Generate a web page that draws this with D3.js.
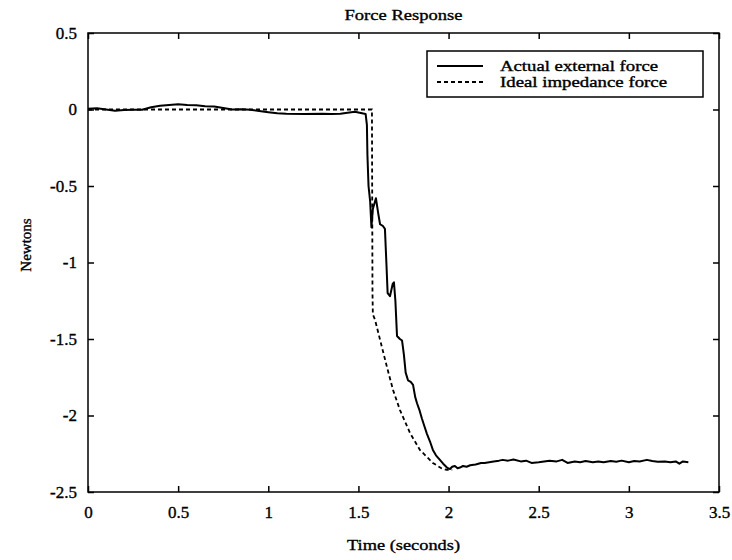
<!DOCTYPE html>
<html>
<head>
<meta charset="utf-8">
<script src="https://cdn.jsdelivr.net/npm/d3@7"></script>
<style>
  body { margin: 0; background: #fff; }
  text { font-family: "Liberation Serif", "DejaVu Serif", serif; fill: #000; stroke: #000; stroke-width: 0.35px; }
</style>
</head>
<body>
<svg width="732" height="560"></svg>
<script>
// data
const actualTime = [0, 0.05, 0.1, 0.15, 0.2, 0.25, 0.3, 0.35, 0.4, 0.45, 0.5, 0.55, 0.6, 0.65, 0.7, 0.75, 0.8, 0.85, 0.9, 0.95,
    1.0, 1.05, 1.1, 1.2, 1.3, 1.35, 1.4, 1.45, 1.48, 1.5, 1.52, 1.54, 1.547, 1.55, 1.556, 1.565, 1.572, 1.58, 1.597, 1.61,
    1.62, 1.635, 1.647, 1.655, 1.662, 1.675, 1.69, 1.697, 1.705, 1.714, 1.73, 1.742, 1.752, 1.762, 1.775, 1.79, 1.803, 1.815,
    1.825, 1.84, 1.852, 1.866, 1.88, 1.897, 1.913, 1.93, 1.952, 1.97, 1.991, 2.008, 2.02, 2.035, 2.05, 2.063, 2.08, 2.1,
    2.12, 2.15, 2.18, 2.2, 2.25, 2.28, 2.3, 2.33, 2.36, 2.4, 2.43, 2.46, 2.5, 2.53, 2.56, 2.6, 2.63, 2.66, 2.7, 2.73, 2.76,
    2.8, 2.83, 2.86, 2.9, 2.93, 2.96, 3.0, 3.03, 3.06, 3.1, 3.13, 3.16, 3.2, 3.23, 3.26, 3.28, 3.3, 3.33];
const actualForce = [0.005, 0.008, 0.0, -0.008, -0.003, -0.002, -0.002, 0.015, 0.025, 0.03, 0.035, 0.03, 0.028, 0.022, 0.02, 0.01, 0.0, 0.002, -0.002, -0.01,
    -0.018, -0.025, -0.028, -0.03, -0.028, -0.03, -0.028, -0.02, -0.015, -0.02, -0.025, -0.03, -0.1, -0.3, -0.5, -0.6, -0.77, -0.65, -0.58, -0.68,
    -0.75, -0.76, -0.78, -1.0, -1.2, -1.22, -1.14, -1.13, -1.25, -1.48, -1.5, -1.51, -1.6, -1.72, -1.77, -1.78, -1.8, -1.88,
    -1.92, -1.97, -2.02, -2.07, -2.12, -2.17, -2.225, -2.26, -2.29, -2.315, -2.34, -2.35, -2.335, -2.33, -2.345, -2.34, -2.33, -2.335,
    -2.325, -2.32, -2.31, -2.31, -2.3, -2.295, -2.29, -2.295, -2.288, -2.3, -2.295, -2.31, -2.305, -2.3, -2.295, -2.3, -2.29, -2.31, -2.3, -2.305, -2.298,
    -2.305, -2.3, -2.305, -2.298, -2.302, -2.295, -2.305, -2.298, -2.3, -2.29, -2.298, -2.302, -2.3, -2.305, -2.3, -2.315, -2.3, -2.305];

const idealTime = [0, 1.575, 1.578, 1.58, 1.592, 1.62, 1.658, 1.692, 1.73, 1.786, 1.841, 1.913, 1.96, 1.991, 2.02];
const idealForce = [0, 0, -1.2, -1.34, -1.374, -1.505, -1.682, -1.833, -1.963, -2.114, -2.225, -2.31, -2.345, -2.356, -2.356];

const xTicks = [0, 0.5, 1, 1.5, 2, 2.5, 3, 3.5];
const yTicks = [0.5, 0, -0.5, -1, -1.5, -2, -2.5];
const seriesNames = ["Actual external force", "Ideal impedance force"];

const svg = d3.select("svg");
const margin = { top: 33, right: 13, bottom: 68, left: 88 };
const plotWidth = 732 - margin.left - margin.right;
const plotHeight = 560 - margin.top - margin.bottom;

const xScale = d3.scaleLinear().domain([0, 3.5]).range([0, plotWidth]);
const yScale = d3.scaleLinear().domain([-2.5, 0.5]).range([plotHeight, 0]);

const plot = svg.append("g")
    .attr("transform", `translate(${margin.left},${margin.top})`);

const line = d3.line()
    .x(d => xScale(d[0]))
    .y(d => yScale(d[1]));

const actual = actualTime.map((t, i) => [t, actualForce[i]]);
const ideal = idealTime.map((t, i) => [t, idealForce[i]]);

plot.append("path")
    .datum(ideal)
    .attr("d", line)
    .attr("fill", "none")
    .attr("stroke", "#000")
    .attr("stroke-width", 1.8)
    .attr("stroke-dasharray", "4,3");

plot.append("path")
    .datum(actual)
    .attr("d", line)
    .attr("fill", "none")
    .attr("stroke", "#000")
    .attr("stroke-width", 2)
    .attr("stroke-linejoin", "round");

// plain hyphen minus like the original
const fmt = d => String(d);

// axes with inward ticks on all four sides
function styleAxis(g) {
    g.select(".domain").remove();
    g.selectAll(".tick line").attr("stroke", "#000").attr("stroke-width", 1.5);
    g.selectAll(".tick text").attr("font-size", 17).attr("font-family", "Liberation Serif");
}

plot.append("g")
    .attr("transform", `translate(0,${plotHeight})`)
    .call(d3.axisBottom(xScale).tickValues(xTicks).tickFormat(fmt).tickSizeInner(-6).tickPadding(14))
    .call(styleAxis);

plot.append("g")
    .call(d3.axisTop(xScale).tickValues(xTicks).tickSizeInner(-6).tickFormat(""))
    .call(styleAxis);

plot.append("g")
    .call(d3.axisLeft(yScale).tickValues(yTicks).tickFormat(fmt).tickSizeInner(-6).tickPadding(11))
    .call(styleAxis);

plot.append("g")
    .attr("transform", `translate(${plotWidth},0)`)
    .call(d3.axisRight(yScale).tickValues(yTicks).tickSizeInner(-6).tickFormat(""))
    .call(styleAxis);

plot.append("rect")
    .attr("width", plotWidth)
    .attr("height", plotHeight)
    .attr("fill", "none")
    .attr("stroke", "#000")
    .attr("stroke-width", 1.5);

// titles
svg.append("text")
    .attr("x", margin.left + plotWidth / 2)
    .attr("y", 20)
    .attr("text-anchor", "middle")
    .attr("font-size", 15)
    .attr("textLength", 118)
    .attr("lengthAdjust", "spacingAndGlyphs")
    .text("Force Response");

svg.append("text")
    .attr("x", margin.left + plotWidth / 2)
    .attr("y", 550)
    .attr("text-anchor", "middle")
    .attr("font-size", 15)
    .attr("textLength", 113)
    .attr("lengthAdjust", "spacingAndGlyphs")
    .text("Time (seconds)");

svg.append("text")
    .attr("transform", "translate(31,245) rotate(-90)")
    .attr("text-anchor", "middle")
    .attr("font-size", 15)
    .text("Newtons");

// legend
const legend = svg.append("g").attr("transform", "translate(427,51)");
legend.append("rect")
    .attr("width", 276)
    .attr("height", 46)
    .attr("fill", "#fff")
    .attr("stroke", "#000")
    .attr("stroke-width", 1.5);

seriesNames.forEach((name, i) => {
    const y = 15 + i * 16;
    legend.append("line")
        .attr("x1", 10).attr("x2", 56)
        .attr("y1", y).attr("y2", y)
        .attr("stroke", "#000")
        .attr("stroke-width", i === 0 ? 2 : 1.8)
        .attr("stroke-dasharray", i === 0 ? null : "4,3");
    legend.append("text")
        .attr("x", 73)
        .attr("y", y + 5)
        .attr("font-size", 14)
        .attr("textLength", i === 0 ? 158 : 167)
        .attr("lengthAdjust", "spacingAndGlyphs")
        .text(name);
});
</script>
</body>
</html>
